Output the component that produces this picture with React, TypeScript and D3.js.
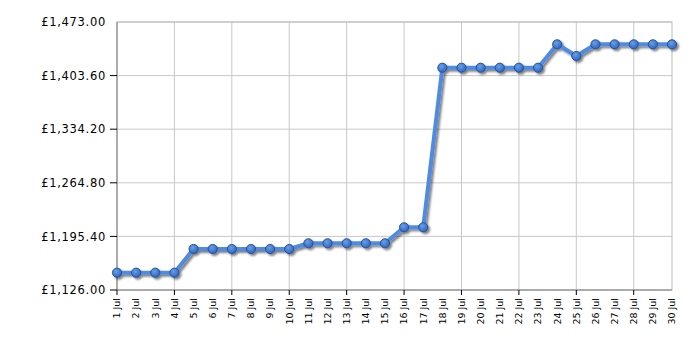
import React from "react";
import * as d3 from "d3";

const days = Array.from({ length: 30 }, (_, i) => `${i + 1} Jul`);
const prices = [
  1148.4, 1148.4, 1148.4, 1148.4,
  1179.1, 1179.1, 1179.1, 1179.1, 1179.1, 1179.1,
  1186.5, 1186.5, 1186.5, 1186.5, 1186.5,
  1207.2, 1207.2,
  1413.8, 1413.8, 1413.8, 1413.8, 1413.8, 1413.8,
  1444.1, 1429.0, 1444.1, 1444.1, 1444.1, 1444.1, 1444.1,
];
const yTicks = [1126, 1195.4, 1264.8, 1334.2, 1403.6, 1473];
const gridDayIdx = [0, 3, 6, 9, 12, 15, 18, 21, 24, 27];

const W = 700, H = 350;
const L = 117, R = 672, T = 22, B = 290;

export default function App() {
  const x = d3.scalePoint<string>().domain(days).range([L, R]);
  const y = d3.scaleLinear().domain([1126, 1473]).range([B, T]);
  const pts = days.map((d, i) => [x(d) as number, y(prices[i])] as [number, number]);
  const line = d3.line()(pts) || "";
  const fmt = (v: number) => "£" + d3.format(",.2f")(v);
  const font = "Verdana, 'DejaVu Sans', sans-serif";
  return (
    <svg width={W} height={H} style={{ position: "absolute", left: 0, top: 0 }} fontFamily={font}>
      <defs>
        <filter id="sh" x="-20%" y="-20%" width="140%" height="140%">
          <feGaussianBlur in="SourceAlpha" stdDeviation="0.9" />
          <feOffset dx="2" dy="2" result="o" />
          <feComponentTransfer><feFuncA type="linear" slope="0.5" /></feComponentTransfer>
          <feMerge><feMergeNode /><feMergeNode in="SourceGraphic" /></feMerge>
        </filter>
        <radialGradient id="dot" cx="40%" cy="35%" r="65%">
          <stop offset="0%" stopColor="#6a9ee6" />
          <stop offset="100%" stopColor="#2f66c0" />
        </radialGradient>
      </defs>
      <rect x={0} y={0} width={W} height={H} fill="#fff" />
      {yTicks.map((t) => (
        <line key={"gy" + t} x1={L} x2={R} y1={y(t)} y2={y(t)} stroke="#c8c8c8" strokeWidth={1} />
      ))}
      {gridDayIdx.map((i) => (
        <line key={"gx" + i} x1={x(days[i])} x2={x(days[i])} y1={T} y2={B} stroke="#c8c8c8" strokeWidth={1} />
      ))}
      <rect x={L} y={T} width={R - L} height={B - T} fill="none" stroke="#bbbbbb" strokeWidth={1} />
      <line x1={L} x2={L} y1={T} y2={B} stroke="#888" strokeWidth={1} />
      <line x1={L} x2={R} y1={B} y2={B} stroke="#888" strokeWidth={1} />
      {yTicks.filter((t) => t !== 1473).map((t) => (
        <line key={"ty" + t} x1={L - 7} x2={L} y1={y(t)} y2={y(t)} stroke="#000" strokeWidth={1} />
      ))}
      {gridDayIdx.map((i) => (
        <line key={"tx" + i} x1={x(days[i])} x2={x(days[i])} y1={B} y2={B + 5} stroke="#000" strokeWidth={1} />
      ))}
      {yTicks.map((t) => (
        <text key={"ly" + t} x={L - 11} y={y(t)} dy="0.36em" textAnchor="end" fontSize={11.5}
          letterSpacing={0.7} fill="#000">
          {fmt(t)}
        </text>
      ))}
      {days.map((d) => (
        <text key={"lx" + d} transform={`translate(${x(d)},${B + 8}) rotate(-90)`} dy="0.35em"
          textAnchor="end" fontSize={9.5} fill="#000">
          {d}
        </text>
      ))}
      <g filter="url(#sh)">
        <path d={line} fill="none" stroke="#4f8be0" strokeWidth={4} strokeLinejoin="round" />
        {pts.map((p, i) => (
          <circle key={"c" + i} cx={p[0]} cy={p[1]} r={4.6} fill="url(#dot)" stroke="#1f4e96" strokeWidth={0.9} />
        ))}
      </g>
    </svg>
  );
}
